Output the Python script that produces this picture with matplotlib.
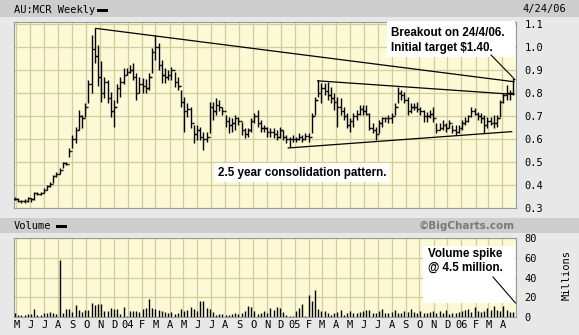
import numpy as np
import matplotlib.pyplot as plt
from matplotlib.patches import Rectangle
from matplotlib.lines import Line2D

# weekly bars, week 0 = week of 28 Apr 2003, last = week of 24 Apr 2006
week_start = np.datetime64('2003-04-28')

high = [.350, .342, .335, .338, .349, .345, .371, .371, .371, .386,
        .400, .415, .444, .458, .473, .502, .500, .560, .617, .654,
        .726, .704, .755, .856, 1.052, 1.081, 1.010, .940, .871, .856,
        .806, .770, .840, .871, .907, .907, .922, .929, .886, .871,
        .864, .860, .886, .994, 1.052, 1.016, .944, .907, .900, .915,
        .893, .871, .813, .784, .755, .741, .661, .661, .654, .632,
        .632, .763, .763, .777, .770, .741, .705, .697, .690, .705,
        .697, .676, .647, .647, .690, .712, .726, .683, .661, .654,
        .650, .647, .640, .654, .640, .618, .610, .618, .610, .625,
        .618, .625, .625, .712, .784, .857, .842, .842, .850, .828,
        .799, .784, .777, .741, .712, .690, .712, .726, .748, .748,
        .748, .712, .668, .654, .683, .697, .697, .705, .712, .755,
        .828, .813, .806, .784, .755, .755, .763, .741, .726, .719,
        .726, .741, .668, .668, .683, .668, .683, .661, .661, .661,
        .683, .697, .705, .741, .734, .719, .712, .705, .697, .697,
        .705, .705, .770, .799, .835, .813, .871]
low = [.335, .327, .323, .323, .327, .325, .335, .357, .357, .364,
       .378, .393, .407, .436, .450, .473, .485, .523, .560, .581,
       .639, .646, .697, .755, .799, .929, .830, .760, .777, .755,
       .697, .654, .755, .784, .840, .878, .886, .856, .770, .800,
       .799, .800, .813, .886, .944, .900, .842, .842, .857, .857,
       .828, .813, .741, .632, .697, .647, .581, .596, .596, .552,
       .589, .625, .683, .705, .720, .705, .654, .625, .632, .639,
       .661, .618, .603, .610, .632, .668, .654, .632, .632, .610,
       .610, .603, .596, .603, .596, .581, .565, .589, .589, .596,
       .589, .596, .589, .625, .705, .784, .755, .792, .770, .755,
       .727, .654, .705, .683, .647, .632, .654, .683, .705, .705,
       .705, .639, .625, .596, .625, .654, .676, .668, .668, .705,
       .755, .770, .755, .705, .712, .726, .719, .705, .676, .676,
       .690, .676, .625, .639, .639, .632, .647, .625, .618, .625,
       .639, .661, .676, .697, .705, .683, .668, .625, .647, .661,
       .647, .654, .697, .755, .770, .770, .792]
close = [.340, .330, .330, .332, .345, .340, .365, .362, .365, .380,
         .395, .405, .440, .450, .465, .495, .490, .550, .600, .640,
         .700, .690, .740, .840, .990, .960, .870, .800, .850, .780,
         .720, .740, .820, .850, .880, .890, .900, .870, .800, .840,
         .830, .820, .870, .980, 1.000, .920, .880, .870, .880, .900,
         .850, .830, .760, .720, .730, .670, .620, .640, .610, .600,
         .610, .740, .720, .750, .740, .720, .680, .660, .670, .690,
         .680, .640, .620, .640, .680, .700, .670, .650, .650, .630,
         .630, .620, .610, .640, .610, .600, .600, .600, .600, .610,
         .600, .615, .610, .700, .770, .800, .820, .810, .790, .780,
         .760, .740, .720, .700, .660, .680, .700, .710, .730, .720,
         .710, .650, .640, .620, .670, .690, .690, .690, .700, .740,
         .800, .790, .770, .720, .740, .740, .730, .720, .700, .700,
         .710, .690, .640, .650, .660, .650, .670, .640, .630, .650,
         .670, .680, .700, .720, .710, .700, .690, .660, .680, .670,
         .670, .690, .760, .790, .800, .800, .860]
volume = [3.7, 2.4, 2.0, 2.4, 2.7, 3.4, 8.4, 2.0, 2.0, 4.0,
          4.0, 5.0, 4.0, 3.4, 58.0, 4.0, 8.4, 8.4, 5.0, 12.0,
          7.0, 5.0, 7.0, 7.0, 14.5, 12.5, 12.8, 13.5, 6.0, 6.0,
          9.5, 7.8, 8.4, 3.4, 10.0, 1.2, 6.0, 6.0, 6.0, 5.0,
          8.4, 9.5, 18.6, 9.5, 7.8, 7.0, 6.0, 5.0, 3.7, 5.0,
          3.4, 3.7, 7.8, 6.0, 7.0, 10.0, 7.8, 6.0, 16.0, 16.0,
          9.0, 7.8, 5.0, 2.4, 3.0, 3.4, 2.4, 2.4, 3.4, 3.7,
          3.4, 3.7, 5.7, 10.8, 10.0, 6.0, 3.4, 3.7, 5.7, 4.4,
          9.0, 7.0, 10.5, 9.0, 5.0, 2.4, 1.0, 1.5, 6.0, 9.5,
          12.8, 1.0, 22.0, 16.0, 27.3, 7.8, 6.0, 6.0, 4.4, 1.7,
          3.7, 5.0, 7.0, 2.4, 3.7, 6.0, 3.7, 4.4, 5.0, 6.0,
          7.0, 7.0, 4.4, 3.7, 6.0, 7.8, 4.4, 3.7, 5.0, 7.0,
          3.7, 4.4, 6.0, 5.0, 8.4, 5.0, 4.4, 6.0, 4.4, 3.7,
          5.0, 6.0, 4.4, 6.0, 4.4, 7.0, 3.0, 3.7, 4.4, 5.0,
          5.7, 7.0, 8.4, 5.0, 10.5, 6.0, 5.0, 6.0, 9.0, 7.0,
          11.0, 7.0, 6.0, 11.5, 7.0, 5.5, 5.0]

# hand drawn trend lines: (week, price) end points
upper_line = ([25.3, 156.3], [1.081, 0.849])
mid_line = ([94.8, 156.3], [0.853, 0.794])
low_line = ([85.6, 155.6], [0.561, 0.632])

month_labels = ['M', 'J', 'J', 'A', 'S', 'O', 'N', 'D', '04', 'F', 'M', 'A',
                'M', 'J', 'J', 'A', 'S', 'O', 'N', 'D', '05', 'F', 'M', 'A',
                'M', 'J', 'J', 'A', 'S', 'O', 'N', 'D', '06', 'F', 'M', 'A']
price_ticks = [0.3, 0.4, 0.5, 0.6, 0.7, 0.8, 0.9, 1.0, 1.1]
vol_ticks = [0, 20, 40, 60, 80]

weeks = np.arange(len(close))
opens = [close[0]] + close[:-1]
months = np.arange(np.datetime64('2003-05'), np.datetime64('2006-05'), dtype='datetime64[M]')
month_pos = (months.astype('datetime64[D]') - week_start).astype(int) / 7.0

W, H = 579, 335
def fx(px):
    return px / W
def fy(py):
    return 1 - py / H

bg = '#fbf9d6'
grid = '#d3cc9c'
mono = 'DejaVu Sans Mono'

fig = plt.figure(figsize=(W / 100, H / 100), dpi=100)
fig.patch.set_facecolor('#e8e8e8')

# title bars
fig.patches.append(Rectangle((0, fy(17)), 1, 17 / H, transform=fig.transFigure,
                             facecolor='#cdcdcd', edgecolor='none', zorder=0))
fig.patches.append(Rectangle((0, fy(233)), 1, 15 / H, transform=fig.transFigure,
                             facecolor='#cdcdcd', edgecolor='none', zorder=0))
fig.text(fx(14), fy(10), 'AU:MCR Weekly', family=mono, fontsize=7.5, va='center')
fig.patches.append(Rectangle((fx(97), fy(11.5)), fx(11), 3 / H, transform=fig.transFigure,
                             facecolor='black', zorder=1))
fig.text(fx(522), fy(9), '4/24/06', family=mono, fontsize=7.5, va='center')
fig.text(fx(14), fy(226), 'Volume', family=mono, fontsize=7.5, va='center')
fig.patches.append(Rectangle((fx(56), fy(227.5)), fx(11), 3 / H, transform=fig.transFigure,
                             facecolor='black', zorder=1))
fig.text(fx(515), fy(226), '\u00a9BigCharts.com', family='DejaVu Sans', weight='bold',
         fontsize=7.5, color='#7a7a7a', ha='right', va='center')

x_lo = -0.31
x_hi = 156.95

# price panel
ax = fig.add_axes([fx(14), fy(208), fx(502), 186 / H])
ax.set_facecolor(bg)
ax.vlines(weeks, low, high, color='black', lw=1.0, zorder=3)
ax.hlines(opens, weeks - 0.55, weeks, color='black', lw=1.0, zorder=3)
ax.hlines(close, weeks, weeks + 0.55, color='black', lw=1.0, zorder=3)
for xs, ys in (upper_line, mid_line, low_line):
    ax.plot(xs, ys, color='black', lw=0.9, zorder=4)
ax.set_xlim(x_lo, x_hi)
ax.set_ylim(0.3, 1.1087)
ax.set_xticks(month_pos)
ax.set_yticks(price_ticks)
ax.set_yticklabels(['%.1f' % p for p in price_ticks], family=mono, fontsize=7.5)
ax.yaxis.tick_right()
ax.tick_params(axis='y', length=0, pad=6)
ax.tick_params(axis='x', length=0, labelbottom=False)
ax.grid(True, color=grid, lw=0.9, zorder=0)
ax.set_axisbelow(True)
for s in ax.spines.values():
    s.set_color('#9a9a9a')
    s.set_linewidth(0.8)

# volume panel
axv = fig.add_axes([fx(14), fy(317), fx(502), 79 / H])
axv.set_facecolor(bg)
axv.vlines(weeks, 0, volume, color='black', lw=1.0, zorder=3)
axv.set_xlim(x_lo, x_hi)
axv.set_ylim(0, 80)
axv.set_xticks(month_pos)
axv.set_xticklabels(month_labels, family=mono, fontsize=7.5)
axv.set_yticks(vol_ticks)
axv.set_yticklabels([str(v) for v in vol_ticks], family=mono, fontsize=7.5)
axv.yaxis.tick_right()
axv.tick_params(axis='both', length=0)
axv.tick_params(axis='y', pad=6)
axv.tick_params(axis='x', pad=2)
axv.grid(True, color=grid, lw=0.9, zorder=0)
axv.set_axisbelow(True)
for s in axv.spines.values():
    s.set_color('#9a9a9a')
    s.set_linewidth(0.8)
fig.text(fx(567), fy(275), 'Millions', family=mono, fontsize=7.5, rotation=90,
         ha='center', va='center')

# notes
def note_box(x0, y0, x1, y1):
    fig.patches.append(Rectangle((fx(x0), fy(y1)), fx(x1 - x0), (y1 - y0) / H,
                                 transform=fig.transFigure, facecolor='white',
                                 edgecolor='none', zorder=2))

def note_line(x0, y0, x1, y1):
    fig.lines.append(Line2D([fx(x0), fx(x1)], [fy(y0), fy(y1)], transform=fig.transFigure,
                            color='black', lw=0.8, zorder=4))

note_kw = dict(family='Liberation Sans', weight='bold', fontsize=8.4, va='center', zorder=5)

note_box(215, 163, 389, 182)
fig.text(fx(218), fy(172.5), '2.5 year consolidation pattern.', **note_kw)

note_box(387, 21, 515, 57)
fig.text(fx(391), fy(33), 'Breakout on 24/4/06.', **note_kw)
fig.text(fx(391), fy(48), 'Initial target $1.40.', **note_kw)
note_line(491, 55, 512.5, 77)

note_box(423, 246, 515, 303)
fig.text(fx(428), fy(254), 'Volume spike', **note_kw)
fig.text(fx(428), fy(268), '@ 4.5 million.', **note_kw)
note_line(493, 277, 515.5, 303)

fig.savefig('out.png', dpi=100, facecolor=fig.get_facecolor())
